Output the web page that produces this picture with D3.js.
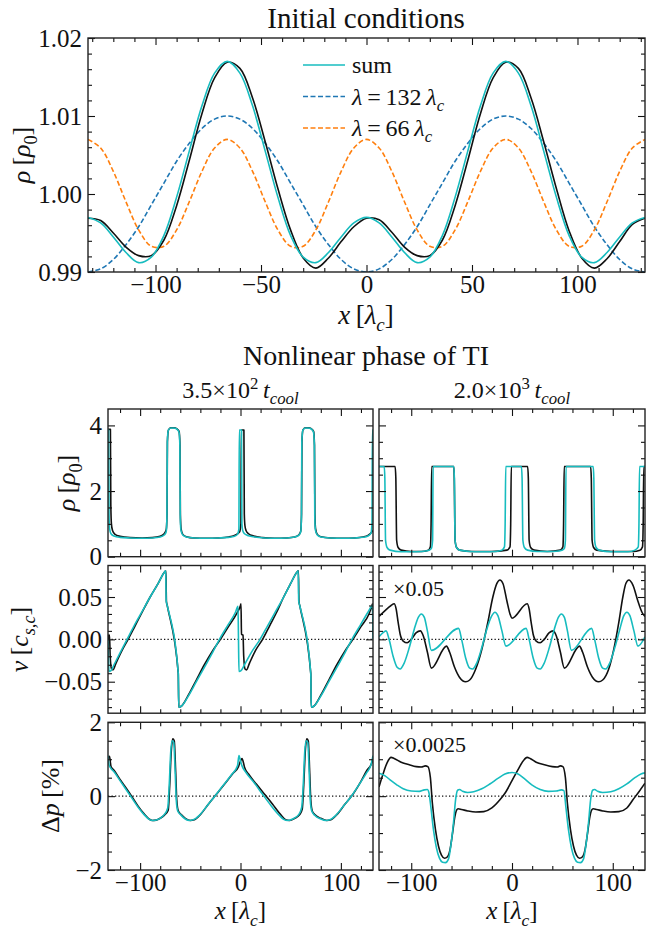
<!DOCTYPE html>
<html>
<head>
<meta charset="utf-8">
<script src="https://cdn.jsdelivr.net/npm/d3@7"></script>
<style>
  body { margin: 0; background: #fff; }
  svg text { font-family: "Liberation Serif", "DejaVu Serif", serif; fill: #111; }
</style>
</head>
<body>
<svg id="fig" width="647" height="929"></svg>
<script>
// ---- initial conditions (top panel) ----
var xIC = [-132,-126,-120,-114,-108,-102,-96,-90,-84,-78,-72,-66,-60,-54,-48,-42,-36,-30,-24,-18,-12,-6,
           0,6,12,18,24,30,36,42,48,54,60,66,72,78,84,90,96,102,108,114,120,126,132];
var rhoSum = [0.9970,0.9963,0.9945,0.9925,0.9912,0.9919,0.9947,0.9996,1.0055,1.0113,1.0155,1.0170,1.0155,1.0113,1.0055,0.9996,0.9947,0.9919,0.9912,0.9925,0.9945,0.9963,
              0.9970,0.9963,0.9945,0.9925,0.9912,0.9919,0.9947,0.9996,1.0055,1.0113,1.0155,1.0170,1.0155,1.0113,1.0055,0.9996,0.9947,0.9919,0.9912,0.9925,0.9945,0.9963,0.9970];
var rho132 = [0.9900,0.9904,0.9916,0.9935,0.9958,0.9986,1.0014,1.0042,1.0065,1.0084,1.0096,1.0100,1.0096,1.0084,1.0065,1.0042,1.0014,0.9986,0.9958,0.9935,0.9916,0.9904,
              0.9900,0.9904,0.9916,0.9935,0.9958,0.9986,1.0014,1.0042,1.0065,1.0084,1.0096,1.0100,1.0096,1.0084,1.0065,1.0042,1.0014,0.9986,0.9958,0.9935,0.9916,0.9904,0.9900];
var rho66 = [1.0070,1.0059,1.0029,0.9990,0.9954,0.9933,0.9933,0.9954,0.9990,1.0029,1.0059,1.0070,1.0059,1.0029,0.9990,0.9954,0.9933,0.9933,0.9954,0.9990,1.0029,1.0059,
             1.0070,1.0059,1.0029,0.9990,0.9954,0.9933,0.9933,0.9954,0.9990,1.0029,1.0059,1.0070,1.0059,1.0029,0.9990,0.9954,0.9933,0.9933,0.9954,0.9990,1.0029,1.0059,1.0070];
var rhoRef = [0.9969,0.9966,0.9950,0.9932,0.9921,0.9921,0.9941,0.9985,1.0043,1.0103,1.0149,1.0169,1.0161,1.0123,1.0067,1.0007,0.9954,0.9918,0.9905,0.9918,0.9939,0.9958,
              0.9969,0.9967,0.9951,0.9932,0.9921,0.9921,0.9941,0.9985,1.0043,1.0103,1.0149,1.0169,1.0161,1.0123,1.0067,1.0007,0.9953,0.9918,0.9905,0.9917,0.9939,0.9961,0.9969];

// ---- nonlinear phase, [x, value] pairs; k = black run, c = cyan run ----
var rhoA_k = [[-132,3.88],[-129.6,3.88],[-129.2,1.6],[-128.6,1.0],[-127.5,0.8],[-125,0.68],[-120,0.62],[-110,0.58],[-98,0.57],[-88,0.58],[-80,0.62],[-76,0.7],[-74,0.82],[-73.2,1.3],[-72.8,3.5],[-71.8,3.86],[-69.5,3.93],[-66.5,3.93],[-63.5,3.9],[-61.2,3.82],[-60.3,3.4],[-59.9,1.3],[-59.2,0.85],[-57.5,0.68],[-54,0.61],[-46,0.57],[-34,0.56],[-22,0.57],[-12,0.6],[-6,0.65],[-1,0.75],[0.4,1.0],[0.8,3.86],[3.4,3.86],[3.8,1.3],[4.4,0.95],[5.5,0.8],[8,0.7],[13,0.63],[22,0.58],[34,0.56],[46,0.57],[54,0.6],[58,0.66],[60,0.78],[60.8,1.3],[61.2,3.5],[62.2,3.86],[64.5,3.93],[67.5,3.93],[70.5,3.9],[72.8,3.82],[73.7,3.4],[74.1,1.3],[74.8,0.85],[76.5,0.68],[80,0.61],[90,0.57],[102,0.56],[114,0.57],[122,0.6],[127,0.65],[130,0.72],[132,0.8]];
var rhoA_c = [[-132,3.86],[-131.4,3.86],[-131,1.3],[-130.4,0.85],[-129,0.7],[-126,0.63],[-120,0.59],[-110,0.57],[-98,0.56],[-88,0.57],[-80,0.6],[-76,0.66],[-74,0.76],[-73.3,1.2],[-72.9,3.5],[-71.9,3.85],[-69.5,3.92],[-66.5,3.92],[-63.5,3.89],[-61.3,3.8],[-60.4,3.4],[-60,1.2],[-59.3,0.8],[-57.5,0.66],[-54,0.6],[-46,0.57],[-34,0.56],[-22,0.57],[-12,0.59],[-6,0.62],[-3,0.68],[-1.6,0.85],[-1.2,3.86],[1.0,3.86],[1.4,1.0],[2.2,0.8],[4,0.7],[8,0.64],[14,0.6],[24,0.57],[36,0.56],[46,0.57],[54,0.6],[58,0.65],[60,0.75],[60.7,1.2],[61.1,3.5],[62.1,3.85],[64.5,3.92],[67.5,3.92],[70.5,3.89],[72.7,3.8],[73.6,3.4],[74,1.2],[74.7,0.8],[76.5,0.66],[80,0.6],[90,0.57],[102,0.56],[114,0.57],[122,0.59],[127,0.63],[130,0.72],[131,1.0],[131.4,3.86],[132,3.86]];
var rhoB_k = [[-132,2.75],[-116,2.75],[-115.3,2.4],[-114.5,0.5],[-113,0.28],[-110,0.2],[-100,0.16],[-90,0.16],[-83,0.2],[-81,0.3],[-80.3,1.0],[-79.7,2.75],[-57.8,2.75],[-57.3,2.4],[-56.5,0.5],[-55,0.28],[-52,0.2],[-40,0.16],[-20,0.16],[-5,0.2],[-2,0.3],[-1.3,1.0],[-0.7,2.75],[15.5,2.75],[16.2,2.4],[17,0.5],[18.5,0.28],[22,0.2],[35,0.16],[48,0.2],[50.5,0.3],[51.2,1.0],[51.8,2.75],[78,2.75],[78.7,2.4],[79.5,0.5],[81,0.28],[84,0.2],[100,0.16],[120,0.16],[127,0.2],[129.5,0.3],[130.2,1.0],[130.8,2.75],[132,2.75]];
var rhoB_c = [[-132,2.75],[-126.8,2.75],[-126.2,2.4],[-125.5,0.5],[-124,0.28],[-121,0.2],[-110,0.15],[-95,0.15],[-84,0.18],[-80,0.25],[-78.8,0.5],[-78.3,2.75],[-57.8,2.75],[-57.2,2.4],[-56.5,0.5],[-55,0.28],[-52,0.2],[-42,0.16],[-30,0.15],[-16,0.16],[-10,0.2],[-7.5,0.3],[-6.8,1.0],[-6.2,2.75],[9.3,2.75],[10,2.4],[10.8,0.5],[12.3,0.28],[15.5,0.2],[25,0.16],[40,0.16],[48,0.18],[52,0.25],[53,0.5],[53.6,2.75],[80.6,2.75],[81.2,2.4],[82,0.5],[83.5,0.28],[86.5,0.2],[98,0.15],[115,0.15],[122,0.2],[125.3,0.3],[126,1.0],[126.6,2.75],[132,2.75]];

var vA_k = [[-132,0.0],[-131.3,0.005],[-130.5,0.005],[-129.8,-0.02],[-128.5,-0.035],[-127,-0.036],[-124,-0.028],[-118,-0.013],[-112,0.0],[-105,0.016],[-98,0.032],[-90,0.05],[-82,0.066],[-76,0.079],[-74.3,0.081],[-73.8,0.045],[-73,0.04],[-62,-0.04],[-61.5,-0.08],[-59,-0.079],[-52,-0.066],[-44,-0.048],[-36,-0.03],[-28,-0.014],[-20,0.0],[-12,0.015],[-4,0.03],[0,0.04],[0.5,0.042],[1,0.006],[2.5,0.005],[3.2,-0.02],[4.5,-0.035],[6,-0.036],[9,-0.028],[15,-0.013],[22,0.0],[29,0.016],[36,0.032],[43,0.05],[50,0.066],[56,0.079],[57.7,0.081],[58.2,0.045],[59,0.04],[70,-0.04],[70.5,-0.08],[73,-0.079],[80,-0.066],[88,-0.048],[96,-0.03],[104,-0.014],[112,0.0],[120,0.015],[128,0.03],[131,0.04],[131.5,0.042],[132,0.006]];
var vA_c = [[-132,0.0],[-131.6,-0.02],[-131,-0.038],[-129,-0.037],[-126,-0.03],[-120,-0.016],[-113,0.0],[-106,0.016],[-98,0.033],[-90,0.05],[-82,0.066],[-76,0.079],[-74.5,0.081],[-74,0.045],[-73,0.04],[-62,-0.04],[-61.5,-0.08],[-59,-0.079],[-52,-0.067],[-44,-0.05],[-36,-0.033],[-28,-0.016],[-21,0.0],[-13,0.016],[-5,0.032],[-2.5,0.039],[-2,0.0],[-1.5,-0.038],[0.5,-0.037],[4,-0.03],[11,-0.015],[19.5,0.0],[27,0.016],[35,0.033],[43,0.05],[50,0.066],[56,0.079],[57.5,0.081],[58,0.045],[59,0.04],[70,-0.04],[70.5,-0.08],[73,-0.079],[80,-0.067],[88,-0.05],[96,-0.033],[104,-0.016],[111,0.0],[119,0.016],[127,0.032],[131.5,0.04],[132,0.0]];
var vB_k = [[-132,0.027],[-126,0.034],[-120,0.04],[-117,0.042],[-115,0.036],[-113,0.02],[-111,0.006],[-108,-0.002],[-104,-0.004],[-100,0.0],[-95,0.008],[-91,0.01],[-88,0.004],[-84,-0.015],[-80,-0.034],[-65,-0.008],[-62,-0.015],[-57,-0.033],[-52,-0.045],[-46,-0.05],[-42,-0.048],[-36,-0.035],[-30,-0.012],[-24,0.02],[-19,0.05],[-15,0.066],[-12,0.07],[-9,0.066],[-5,0.045],[-2,0.03],[0,0.025],[15,0.042],[17,0.036],[19,0.02],[21,0.006],[24,-0.002],[28,-0.004],[32,0.0],[37,0.008],[41,0.01],[44,0.004],[48,-0.015],[52,-0.034],[67,-0.008],[70,-0.015],[75,-0.033],[80,-0.045],[86,-0.05],[90,-0.048],[96,-0.035],[101,-0.012],[106,0.02],[110,0.05],[113,0.066],[116,0.07],[120,0.064],[125,0.045],[129,0.032],[132,0.027]];
var vB_c = [[-132,0.003],[-128,0.008],[-125,0.01],[-122,0.0],[-118,-0.02],[-114,-0.033],[-111,-0.035],[-107,-0.028],[-102,-0.01],[-97,0.012],[-93,0.026],[-90,0.03],[-87,0.026],[-84,0.01],[-80,-0.013],[-53,0.013],[-50,0.0],[-46,-0.022],[-42,-0.034],[-39,-0.035],[-35,-0.028],[-30,-0.01],[-25,0.012],[-20,0.028],[-17,0.032],[-14,0.028],[-10,0.01],[-6,-0.008],[14,0.013],[17,0.0],[21,-0.022],[25,-0.034],[28,-0.035],[32,-0.028],[37,-0.01],[42,0.012],[46,0.026],[49,0.03],[52,0.026],[55,0.01],[59,-0.013],[79,0.013],[82,0.0],[86,-0.022],[90,-0.034],[93,-0.035],[97,-0.028],[102,-0.01],[107,0.012],[111,0.028],[114,0.032],[117,0.028],[121,0.01],[125,-0.008],[132,0.003]];

var pA_k = [[-132,1.0],[-130.5,1.08],[-129,0.8],[-126,0.7],[-120,0.45],[-114,0.22],[-108,-0.02],[-102,-0.27],[-96,-0.48],[-91,-0.62],[-88,-0.66],[-84,-0.65],[-80,-0.6],[-76,-0.52],[-72,-0.38],[-70.5,0.3],[-69,1.2],[-67.5,1.55],[-66,1.5],[-64.5,0.6],[-63.5,-0.1],[-62,-0.4],[-59,-0.5],[-55,-0.6],[-50,-0.66],[-46,-0.64],[-40,-0.5],[-32,-0.22],[-24,0.05],[-16,0.32],[-8,0.6],[-2,0.8],[0,0.95],[1.5,1.02],[3,0.9],[4,0.78],[8,0.6],[16,0.32],[24,0.05],[32,-0.22],[40,-0.5],[45,-0.64],[49,-0.66],[54,-0.6],[59,-0.5],[61.5,-0.35],[63,0.3],[64.5,1.2],[66,1.55],[67.5,1.5],[69,0.6],[70,-0.1],[71.5,-0.4],[74,-0.5],[80,-0.6],[86,-0.66],[90,-0.64],[96,-0.5],[104,-0.22],[112,0.05],[120,0.4],[126,0.7],[130,0.85],[132,1.0]];
var pA_c = [[-132,1.1],[-131,0.85],[-129,0.75],[-126,0.66],[-120,0.42],[-114,0.18],[-108,-0.06],[-102,-0.3],[-96,-0.5],[-91,-0.63],[-87,-0.66],[-83,-0.64],[-79,-0.58],[-76,-0.5],[-72.5,-0.32],[-71,0.3],[-69.5,1.2],[-68,1.5],[-66.5,1.45],[-65,0.6],[-64,-0.1],[-62.5,-0.4],[-59,-0.52],[-55,-0.62],[-51,-0.66],[-47,-0.64],[-41,-0.52],[-33,-0.25],[-25,0.02],[-17,0.3],[-9,0.58],[-3,0.82],[-1.5,1.1],[0,0.95],[1.5,0.82],[6,0.62],[14,0.35],[22,0.05],[30,-0.24],[38,-0.5],[43,-0.63],[47,-0.66],[52,-0.62],[58,-0.5],[61,-0.3],[62.5,0.3],[64,1.2],[65.5,1.5],[67,1.45],[68.5,0.6],[69.5,-0.1],[71,-0.4],[74,-0.52],[80,-0.62],[85,-0.66],[89,-0.64],[95,-0.52],[103,-0.25],[111,0.02],[119,0.35],[126,0.65],[130,0.85],[132,1.1]];
var pB_k = [[-132,0.25],[-128,0.6],[-124,0.9],[-120,1.05],[-117,1.02],[-110,0.92],[-102,0.85],[-95,0.8],[-90,0.79],[-86,0.82],[-83.5,0.8],[-81,0.5],[-79,-0.2],[-76,-0.9],[-73,-1.35],[-70,-1.6],[-67,-1.68],[-64,-1.64],[-61.5,-1.45],[-59,-1.0],[-57,-0.6],[-55,-0.38],[-53.5,-0.34],[-50,-0.36],[-44,-0.4],[-36,-0.43],[-28,-0.42],[-20,-0.32],[-12,-0.1],[-6,0.12],[0,0.42],[6,0.72],[11,0.95],[15,1.05],[18,1.02],[24,0.92],[32,0.85],[40,0.8],[45,0.79],[48,0.82],[50.5,0.8],[53,0.5],[55,-0.2],[58,-0.9],[61,-1.35],[64,-1.6],[67,-1.68],[70,-1.64],[72.5,-1.45],[75,-1.0],[77,-0.6],[79,-0.38],[80.5,-0.34],[84,-0.36],[90,-0.4],[98,-0.43],[106,-0.42],[114,-0.32],[120,-0.1],[126,0.12],[132,0.35]];
var pB_c = [[-132,0.62],[-126,0.55],[-120,0.42],[-114,0.3],[-108,0.2],[-100,0.14],[-92,0.13],[-87,0.17],[-84,0.18],[-82.5,0.1],[-80.5,-0.3],[-78,-0.9],[-75,-1.4],[-72,-1.68],[-69,-1.79],[-66,-1.8],[-63,-1.7],[-60.5,-1.3],[-58,-0.7],[-56,-0.1],[-54,0.16],[-52,0.18],[-49,0.13],[-44,0.1],[-38,0.12],[-30,0.2],[-22,0.33],[-14,0.48],[-7,0.6],[0,0.64],[6,0.6],[12,0.48],[20,0.3],[28,0.18],[36,0.13],[44,0.14],[49,0.17],[51.5,0.15],[53.5,-0.3],[56,-0.9],[59,-1.4],[62,-1.68],[65,-1.79],[68,-1.8],[71,-1.7],[73.5,-1.3],[76,-0.7],[78,-0.1],[80,0.16],[82,0.18],[85,0.13],[90,0.1],[98,0.12],[106,0.2],[114,0.33],[122,0.5],[128,0.6],[132,0.63]];

// ticks
var icMajorX = [-100,-50,0,50,100];
var icMinorX = [-130,-120,-110,-90,-80,-70,-60,-40,-30,-20,-10,10,20,30,40,60,70,80,90,110,120,130];
var icMajorY = [0.99,1.00,1.01,1.02];
var icMinorY = [0.992,0.994,0.996,0.998,1.002,1.004,1.006,1.008,1.012,1.014,1.016,1.018];
var nlMajorX = [-100,0,100];
var nlMinorX = [-120,-80,-60,-40,-20,20,40,60,80,120];

var svg = d3.select("#fig");
var CYAN = "#17bcbf", BLUE = "#1f77b4", ORANGE = "#ff7f0e", INK = "#111";
var clipN = 0;

function rich(sel, parts, fs) {
  var shift = 0;
  parts.forEach(function (p) {
    var m = p[1] || "";
    var t = sel.append("tspan").text(p[0]);
    var target = m.indexOf("sub") >= 0 ? 0.26 * fs : (m === "sup" ? -0.36 * fs : 0);
    if (target !== shift) { t.attr("dy", target - shift); shift = target; }
    if (m === "i" || m === "isub") t.style("font-style", "italic");
    if (m !== "" && m !== "i") t.attr("font-size", 0.7 * fs);
  });
}

function label(x, y, parts, fs, rot, anchor) {
  var t = svg.append("text").attr("font-size", fs)
    .attr("text-anchor", anchor || "middle")
    .attr("transform", "translate(" + x + "," + y + ")" + (rot ? " rotate(" + rot + ")" : ""));
  rich(t, parts, fs);
  return t;
}

function panel(o) {
  var g = svg.append("g").attr("transform", "translate(" + o.left + "," + o.top + ")");
  var x = d3.scaleLinear().domain(o.xd).range([0, o.w]);
  var y = d3.scaleLinear().domain(o.yd).range([o.h, 0]);
  var id = "clip" + (clipN++);
  g.append("clipPath").attr("id", id).append("rect").attr("width", o.w).attr("height", o.h);
  var plot = g.append("g").attr("clip-path", "url(#" + id + ")");

  function ticks(axis, tr, vals, len, fmt, pad) {
    var a = g.append("g").attr("transform", tr)
      .call(axis.tickValues(vals).tickSize(-len).tickPadding(pad || 6).tickFormat(fmt || ""));
    a.select(".domain").remove();
    a.attr("font-size", 25).attr("color", INK);
    a.selectAll("line").attr("stroke-width", 1.1);
    return a;
  }
  ticks(d3.axisBottom(x), "translate(0," + o.h + ")", o.xMajor, 7, o.xFmt, 4).selectAll("text").attr("dy", "0.66em");
  ticks(d3.axisBottom(x), "translate(0," + o.h + ")", o.xMinor, 4);
  ticks(d3.axisTop(x), "translate(0,0)", o.xMajor, 7);
  ticks(d3.axisTop(x), "translate(0,0)", o.xMinor, 4);
  ticks(d3.axisLeft(y), "translate(0,0)", o.yMajor, 7, o.yFmt);
  ticks(d3.axisLeft(y), "translate(0,0)", o.yMinor, 4);
  ticks(d3.axisRight(y), "translate(" + o.w + ",0)", o.yMajor, 7);
  ticks(d3.axisRight(y), "translate(" + o.w + ",0)", o.yMinor, 4);

  g.append("rect").attr("width", o.w).attr("height", o.h)
    .attr("fill", "none").attr("stroke", "#222").attr("stroke-width", 1.4);
  return { g: g, plot: plot, x: x, y: y };
}

function pairLine(p, data, color, dash, curve) {
  var line = d3.line().x(function (d) { return p.x(d[0]); }).y(function (d) { return p.y(d[1]); })
    .curve(curve || d3.curveMonotoneX);
  p.plot.append("path").datum(data).attr("d", line).attr("fill", "none")
    .attr("stroke", color).attr("stroke-width", 1.6).attr("stroke-dasharray", dash || null)
    .attr("stroke-linejoin", "round");
}

function zeroLine(p) {
  p.plot.append("line").attr("x1", 0).attr("x2", p.x.range()[1])
    .attr("y1", p.y(0)).attr("y2", p.y(0))
    .attr("stroke", INK).attr("stroke-width", 1.3).attr("stroke-dasharray", "1.3,2.2");
}

// ---------- top panel ----------
var icPanel = panel({ left: 88, top: 38, w: 557, h: 234, xd: [-132, 132], yd: [0.99, 1.02],
  xMajor: icMajorX, xMinor: icMinorX, yMajor: icMajorY, yMinor: icMinorY,
  xFmt: d3.format("d"), yFmt: d3.format(".2f") });

function icLine(vals, color, dash) {
  pairLine(icPanel, xIC.map(function (xv, i) { return [xv, vals[i]]; }), color, dash, d3.curveCatmullRom.alpha(0.5));
}
icLine(rho132, BLUE, "5,2.5");
icLine(rho66, ORANGE, "5,2.5");
icLine(rhoRef, INK);
icLine(rhoSum, CYAN);

// legend
var legend = [
  { y: 65, color: CYAN, dash: null, parts: [["sum"]] },
  { y: 96.5, color: BLUE, dash: "5,2.5", parts: [["λ", "i"], ["\u2009=\u2009132\u2009"], ["λ", "i"], ["c", "isub"]] },
  { y: 128, color: ORANGE, dash: "5,2.5", parts: [["λ", "i"], ["\u2009=\u200966\u2009"], ["λ", "i"], ["c", "isub"]] }
];
legend.forEach(function (d) {
  svg.append("line").attr("x1", 303).attr("x2", 345).attr("y1", d.y).attr("y2", d.y)
    .attr("stroke", d.color).attr("stroke-width", 1.6).attr("stroke-dasharray", d.dash);
  label(352, d.y + 8, d.parts, 24, 0, "start");
});

label(366, 28, [["Initial conditions"]], 29);
label(366, 324, [["x", "i"], ["\u2009["], ["λ", "i"], ["c", "isub"], ["]"]], 27);
label(30, 155, [["ρ", "i"], ["\u2009["], ["ρ", "i"], ["0", "sub"], ["]"]], 26, -90);

// ---------- nonlinear phase ----------
label(366, 365, [["Nonlinear phase of TI"]], 28);
label(240.5, 398, [["3.5×10"], ["2", "sup"], ["\u2009"], ["t", "i"], ["cool", "isub"]], 24);
label(512, 398, [["2.0×10"], ["3", "sup"], ["\u2009"], ["t", "i"], ["cool", "isub"]], 24);

var cols = [{ left: 108, w: 265 }, { left: 379, w: 266 }];
var rows = [
  { top: 409, yd: [0, 4.5], yMajor: [0, 2, 4], yMinor: [0.5, 1, 1.5, 2.5, 3, 3.5], yFmt: d3.format("d") },
  { top: 565.5, yd: [-0.0872, 0.0872], yMajor: [-0.05, 0, 0.05],
    yMinor: [-0.08, -0.07, -0.06, -0.04, -0.03, -0.02, -0.01, 0.01, 0.02, 0.03, 0.04, 0.06, 0.07, 0.08], yFmt: d3.format(".2f") },
  { top: 722.3, yd: [-2, 2], yMajor: [-2, 0, 2], yMinor: [-1.5, -1, -0.5, 0.5, 1, 1.5], yFmt: d3.format("d") }
];
var series = [
  [rhoA_k, rhoA_c, rhoB_k, rhoB_c],
  [vA_k, vA_c, vB_k, vB_c],
  [pA_k, pA_c, pB_k, pB_c]
];
var H = 147.7;
rows.forEach(function (r, ri) {
  cols.forEach(function (c, ci) {
    var p = panel({ left: c.left, top: r.top, w: c.w, h: H, xd: [-132, 132], yd: r.yd,
      xMajor: nlMajorX, xMinor: nlMinorX, yMajor: r.yMajor, yMinor: r.yMinor,
      xFmt: ri === 2 ? d3.format("d") : null, yFmt: ci === 0 ? r.yFmt : null });
    if (ri > 0) zeroLine(p);
    pairLine(p, series[ri][ci * 2], INK);
    pairLine(p, series[ri][ci * 2 + 1], CYAN);
  });
});

label(393, 596, [["×0.05"]], 22, 0, "start");
label(393, 752, [["×0.0025"]], 22, 0, "start");

label(75, 483, [["ρ", "i"], ["\u2009["], ["ρ", "i"], ["0", "sub"], ["]"]], 26, -90);
label(28, 639.5, [["v", "i"], ["\u2009["], ["c", "i"], ["s,c", "isub"], ["]"]], 26, -90);
label(59, 796, [["Δ"], ["p", "i"], ["\u2009[%]"]], 26, -90);
label(240.5, 919, [["x", "i"], ["\u2009["], ["λ", "i"], ["c", "isub"], ["]"]], 25);
label(512, 919, [["x", "i"], ["\u2009["], ["λ", "i"], ["c", "isub"], ["]"]], 25);
</script>
</body>
</html>
